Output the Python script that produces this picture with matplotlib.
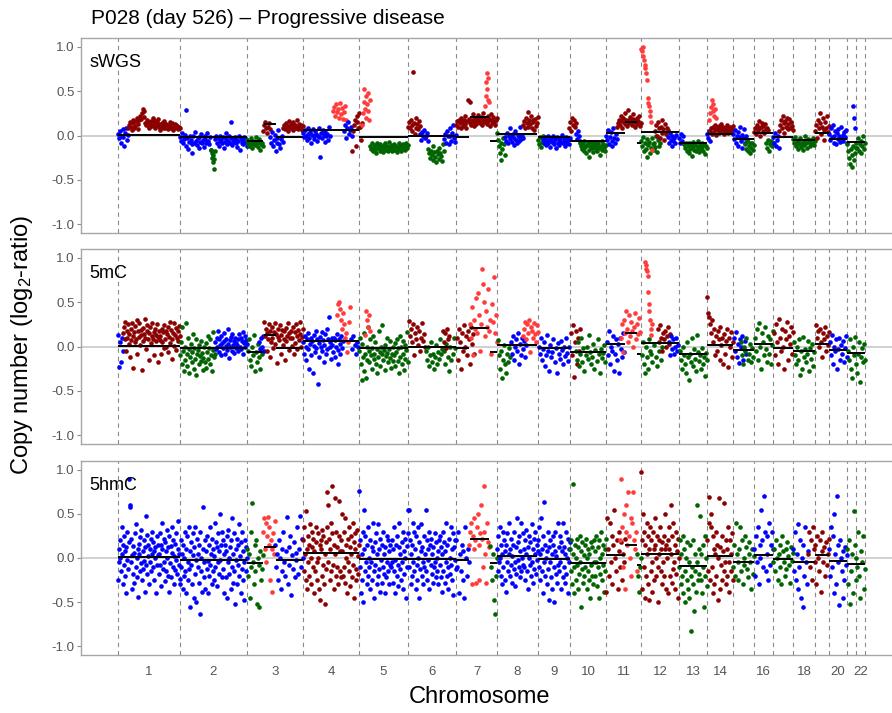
import numpy as np
import matplotlib
matplotlib.use('Agg')
import matplotlib.pyplot as plt

plt.rcParams['font.family'] = ['Liberation Sans', 'DejaVu Sans']
plt.rcParams['mathtext.fontset'] = 'custom'
plt.rcParams['mathtext.rm'] = 'Liberation Sans'
plt.rcParams['mathtext.default'] = 'regular'

# chromosome sizes in bins (genome x axis)
chrom_names = [str(i) for i in range(1, 23)]
chrom_bins = [62, 67, 56, 56, 49, 48, 41, 41, 32, 36, 35, 38, 28, 26, 21, 19, 20, 22, 14, 18, 9, 9]
shown_labels = ['1', '2', '3', '4', '5', '6', '7', '8', '9', '10', '11', '12', '13', '14', '16', '18', '20', '22']

# segments (bin start, bin end, log2 ratio)
seg_start = [0, 62, 129, 146, 158, 185, 241, 290, 338, 352, 372, 379, 420, 452, 488, 507, 519, 523,
             561, 589, 615, 636, 655, 675, 697, 711, 729]
seg_end = [62, 129, 145, 158, 185, 241, 290, 338, 351, 371, 379, 419, 452, 488, 507, 519, 523, 561,
           589, 615, 636, 655, 675, 697, 711, 729, 747]
seg_mean = [0.01, -0.02, -0.06, 0.13, -0.02, 0.06, -0.015, -0.01, -0.02, 0.21, -0.06, 0.02, -0.015,
            -0.06, 0.03, 0.15, -0.08, 0.045, -0.09, 0.02, -0.045, 0.03, -0.015, -0.05, 0.03, -0.035, -0.07]

# bins: (start, end, call, log2 ratio x100)
swgs_bins = [
    (0, 10, 'n', "2 -3 5 -8 0 7 -2 -12 3 9 -5 1"),
    (10, 62, 'g', "8 12 15 10 6 14 18 9 11 16 20 13 7 17 22 19 25 30 28 21 14 12 18 15 10 9 13 16 11 20 17 14 8 12 15 19 13 10 6 11 14 9 12 16 8 13 10 7 12 15 11 9 14 6 10 13 8 12 11 7 10 9"),
    (62, 93, 'n', "-2 -6 3 -9 -4 1 -12 29 -3 -15 -7 0 -5 -10 -20 -1 -8 4 -6 -11 -3 -14 -2 -7 2 -9 -5 -13 -1 -4 -8 3 -6 -10 -2 -16"),
    (93, 97, 'l', "-16 -20 -25 -22 -30 -27 -38 -18"),
    (97, 129, 'n', "-4 -1 -8 -3 -12 -6 0 -5 -9 -2 -14 -7 3 -4 -10 -6 -1 -8 15 -3 -11 -5 -7 -2 -9 -4 -13 -6 -1 -16 -3 -8 -5 -10 -2 -7 -4 -12"),
    (129, 145, 'l', "-5 -9 -12 -7 -3 -10 -14 -8 -6 -11 -2 -9 -13 -7 -4 -16 -10 -8 -12"),
    (145, 152, 'g', "5 12 15 8 3 10 14 7"),
    (152, 165, 'n', "-2 -8 4 -12 -5 1 -17 -9 -3 6 -10 -14 -4 0 -7"),
    (165, 185, 'g', "9 12 7 14 10 5 11 16 8 13 9 6 15 11 12 8 17 10 7 13 9 12 6 11"),
    (185, 212, 'n', "3 -2 6 0 -5 8 2 -3 4 -8 1 7 -1 -4 5 2 -6 0 9 -2 -24 3 -3 6 1 -7 4 -1 2 -5 10 0"),
    (215, 228, 'a', "28 32 22 35 26 30 20 37 24 31 19 27 33 18"),
    (226, 234, 'n', "5 12 -3 8 15 2 6 10 -1"),
    (234, 244, 'g', "-17 5 12 18 -12 22 15 8 25 10 -5 14"),
    (244, 252, 'a', "12 25 38 53 30 45 20 35 48 28 18 40"),
    (252, 290, 'l', "-12 -15 -9 -18 -13 -11 -16 -20 -8 -14 -12 -17 -10 -15 -13 -19 -11 -14 -9 -16 -12 -18 -13 -7 -15 -11 -17 -14 -10 -16 -13 -12 -19 -15 -9 -14 -11 -17 -13 -10 -15 -12 -16 -8 -14 -11"),
    (290, 302, 'g', "10 15 8 18 5 12 72 14 2 20 9 13 7 16 11"),
    (302, 310, 'n', "2 -5 4 -1 6 -3 0 3 -6"),
    (310, 326, 'l', "-15 -20 -25 -18 -22 -28 -12 -19 -24 -30 -17 -21 -26 -14 -20 -23 -29 -10 -18"),
    (326, 338, 'n', "-4 2 -8 5 -1 -10 8 0 -6 3 12 -3 -7 1"),
    (338, 379, 'g', "12 16 10 18 14 8 20 15 11 17 13 22 9 16 40 19 38 14 12 18 24 15 11 20 13 17 23 16 19 14 21 12 18 25 15 20 17 13 22 16 19 11 24 14 18 21 15 12 17 20"),
    (367, 371, 'a', "33 45 60 70 52 40 65 38"),
    (379, 387, 'l', "3 -5 -12 -20 -8 -28 -15 -3 -10 -22"),
    (387, 405, 'n', "-2 -6 3 -9 0 -4 8 -1 -7 2 -11 -3 5 -5 -8 1 -2 -6 10 -4 0 -3"),
    (405, 420, 'g', "12 16 8 20 14 27 10 18 13 22 9 15 17 6 19 11 14 21"),
    (420, 427, 'l', "-5 -10 -2 -13 -7 0 -9 -4"),
    (425, 452, 'n', "-4 -8 -2 -11 -6 0 -9 -5 -13 -3 -7 -1 -10 -6 -4 -14 -2 -8 -5 -11 -3 -7 1 -9 -4 -12 -6 -2 -8 -5 -10 -3"),
    (450, 458, 'g', "8 15 5 20 12 18 10 14"),
    (457, 462, 'n', "2 -4 5 -1 -6"),
    (462, 488, 'l', "-8 -12 -15 -10 -18 -6 -13 -20 -11 -9 -16 -24 -12 -7 -14 -10 -19 -13 -8 -15 -11 -17 -9 -14 -22 -12 -6 -16 -10 -13 -18 -11"),
    (488, 499, 'n', "0 -5 6 -10 -2 4 -12 -6 8 -3 -8 2 -4"),
    (499, 523, 'g', "10 14 18 12 22 16 9 20 15 25 13 18 11 29 17 14 21 16 12 19 24 15 10 18 13 20 16 22 11 14"),
    (523, 542, 'l', "-6 -12 -2 -18 -9 -15 -4 -24 -11 -7 -20 -14 -3 -10 -16 -8 -13 0 -19 -5 -12 -9"),
    (523, 534, 'a', "98 95 100 90 85 80 76 70 63 42 37 33 28 22 15 -16"),
    (537, 550, 'g', "5 12 0 15 8 -3 10 18 3 7 -5 13 2 9 6"),
    (550, 558, 'n', "-2 -8 3 -5 -12 0 -6 -3 -9 1"),
    (561, 566, 'n', "-3 -8 2 -6 -1 -10"),
    (566, 589, 'l', "-10 -14 -8 -17 -12 -20 -9 -15 -11 -23 -13 -7 -16 -10 -18 -12 -14 -6 -19 -11 -15 -9 -13 -17 -10 -21 -12 -14"),
    (589, 592, 'n', "2 -3 5 -6"),
    (592, 615, 'g', "5 8 2 10 4 12 7 1 9 6 11 3 8 13 5 10 2 7 9 4 12 6 3 8 10 5 7 11"),
    (591, 598, 'a', "18 25 32 40 36 28 22 30 20"),
    (615, 629, 'n', "2 -4 6 -8 0 -12 4 -2 10 -6 -14 1 -3 7 -9 -1 -5"),
    (627, 636, 'l', "-10 -15 -6 -18 -12 -8 -20 -14 -9 -16 -11"),
    (636, 650, 'g', "4 9 2 12 6 16 8 0 10 14 5 11 3 13 7 9 6"),
    (648, 655, 'l', "-8 -14 -5 -17 -10 -6 -12 -9"),
    (655, 661, 'n', "-2 -8 3 -12 -5 0 -14"),
    (661, 675, 'g', "5 12 18 8 22 14 3 16 10 20 7 13 19 9 15 11 6"),
    (675, 697, 'l', "-4 -9 -2 -12 -7 -15 -5 -10 -3 -13 -8 -16 -6 -11 -1 -9 -14 -4 -7 -12 -5 -10 -8 -3 -11 -6"),
    (697, 711, 'g', "5 12 -3 18 8 25 14 2 10 20 6 -5 15 9 22 4 11"),
    (711, 729, 'n', "2 -5 8 -2 12 -8 0 5 -10 3 -4 7 -1 -7 10 -3 1 -6 4 -2 6 -9"),
    (729, 738, 'l', "-10 -18 -25 -32 -15 -35 -22 -12 -28 -20 -14"),
    (734, 738, 'n', "33 20 8"),
    (738, 747, 'l', "-8 -14 -3 -18 -10 -6 -20 -12 0 -15 -9"),
]

mc_bins = [
    (0, 5, 'n', "13 -23 5 -18 10 -5"),
    (5, 62, 'g', "15 22 8 28 -5 18 10 25 3 14 -12 20 7 27 12 -24 16 5 23 9 30 -8 17 11 26 2 13 19 -26 6 21 14 31 10 -3 18 24 8 15 -15 22 4 12 27 9 16 -10 20 6 13 25 -18 11 17 7 "
                  "12 -8 20 5 16 -2 24 9 18 0 14 22 -6 11 28 4 19 -14 8 15 26 1 13 21 -4 10 17 6 23 12"),
    (62, 97, 'l', "-10 5 -20 22 -5 -28 0 -15 26 -8 -22 10 -3 -30 -12 3 -18 -6 14 -25 -2 -14 8 -32 -9 -4 -20 2 -11 -16 6 -7 -26 -13 0 "
                  "-18 4 -24 -6 12 -14 -2 -20 8 -10 -28 -4 16 -12 -8"),
    (97, 129, 'n', "5 -3 10 0 18 -6 8 2 -10 12 4 -2 15 6 -8 9 1 -4 20 3 -13 7 -1 11 -5 14 2 -7 6 10 -2 4 "
                   "2 8 -5 14 0 10 -3 6 16 -8 4 12 -1 7 3"),
    (129, 144, 'l', "-5 8 -15 -22 0 -10 13 -28 -6 -18 3 -12 -25 -2 -8"),
    (140, 147, 'n', "5 -3 10 0 12 -5"),
    (146, 185, 'g', "28 12 20 -5 15 8 25 -12 18 5 22 10 -2 16 27 3 14 -19 11 20 7 24 -8 13 19 2 17 9 -15 21 6 12 26 -4 15 10 18 1 "
                    "10 22 -8 16 4 25 12 -3 19 7 14 28 0 11 20"),
    (185, 225, 'n', "5 -8 12 0 -15 8 -3 15 -25 3 10 -10 6 -30 1 13 -6 18 -2 9 -42 4 -12 11 0 16 -5 7 -18 2 14 -9 20 -3 8 33 -1 5 -14 10 "
                    "2 -6 10 -12 7 0 14 -4 -20 9 3 -9 12 -2 6"),
    (219, 232, 'a', "35 48 50 42 30 20 38 25 10 15 -6 5 28 45"),
    (232, 241, 'n', "8 -3 12 2 -8 5 0"),
    (241, 290, 'l', "-5 10 -20 -38 3 -12 -28 15 -8 -35 0 -15 22 -5 -18 8 -10 -25 -2 12 -14 -8 5 -20 -30 -3 -12 18 -6 -22 -1 -9 24 -15 -4 -26 2 -11 -7 10 -18 -3 -13 6 -24 -8 0 -16 "
                    "-10 4 -22 -6 8 -16 -2 -30 12 -12 0 -20 6 -8 -26 2 -14 -4 16 -18"),
    (247, 252, 'a', "13 40 30 22 35 18"),
    (290, 307, 'g', "29 12 20 5 25 -10 15 8 22 2 18 -5 10 27 6 14 0"),
    (307, 325, 'l', "-5 -15 0 -22 -10 5 -18 -8 -25 -12 2 -20 -6 -14 8 -9 -3"),
    (325, 338, 'l', "-5 -20 3 -12 -28 0 -15 -8 10 -2"),
    (324, 332, 'g', "18 5 15 -2 20 8 12"),
    (338, 356, 'g', "10 -15 20 5 -25 15 -5 24 0 12 -10 18 8 -20 22 3 14 -8"),
    (352, 379, 'a', "25 10 45 -10 30 20 55 15 60 35 -5 25 88 70 50 12 40 22 65 18 30 -8 48 28 78 15 35 5"),
    (379, 392, 'l', "7 -10 -25 -5 -36 -15 2 -20 -30 -8 -18 -2 -12"),
    (392, 409, 'n', "5 -8 12 -15 0 8 -5 15 -20 3 -10 10 -3 6 -12 2"),
    (405, 420, 'a', "12 20 28 8 25 15 30 -6 22 18 10 26 14 5 24 16"),
    (420, 452, 'n', "0 -8 10 -15 -3 5 -22 -10 13 -5 -28 2 -12 -6 8 -18 -2 -30 4 -9 -14 6 -4 -20 0 -11 10 -7 -16 -1"),
    (452, 462, 'g', "15 -10 24 -34 5 18 -20 10 -5 20"),
    (457, 488, 'l', "-5 -15 5 -22 -8 10 -18 -2 -28 -10 0 -14 13 -6 -20 -12 3 -25 -4 -16 8 -9 -30 -3 -13 -7 2 -18"),
    (488, 507, 'n', "5 -10 18 -20 0 -5 12 -28 -8 8 -15 3 -30 10 -3 -12 15 -6"),
    (502, 522, 'a', "10 25 -6 30 15 40 20 5 35 12 28 18 0 22 38 8 25 14 32 16"),
    (523, 532, 'l', "-10 5 -20 -30 0 -12 -25 8 -5"),
    (532, 545, 'l', "-8 -18 2 -12 -22 -5 -15 0"),
    (527, 534, 'a', "95 92 88 85 80 62 48 40 30 20 13 25"),
    (540, 552, 'g', "20 5 24 10 -5 15 8 18 0 12 22 3 14"),
    (550, 560, 'n', "5 -10 12 -3 8 -8 0 10 -5 2"),
    (561, 589, 'l', "-5 -15 -25 0 -10 -20 -30 5 -12 -38 -8 -18 10 -22 -3 -14 -28 13 -6 -16 -10 -25 -2 -20 -12 -33 -7 -15"),
    (589, 615, 'g', "56 38 33 25 15 30 5 20 -10 12 -5 18 8 -15 22 2 10 -20 14 -8 6 20 -23 10 0 16 -12 5"),
    (615, 628, 'n', "10 -5 16 -12 3 -19 8 0 12 -15 -3 6 -8"),
    (622, 636, 'l', "5 -10 -20 0 -5 10 -15 -8 3 -18 -2 -12"),
    (636, 655, 'l', "10 -5 20 -15 26 0 -25 15 5 -10 22 -3 -18 12 -8 8 -20 2 18"),
    (655, 675, 'g', "15 -10 25 5 -20 31 10 -5 20 0 -25 18 8 28 -15 12 3 22 -8 16"),
    (675, 697, 'l', "5 -10 -20 0 -15 8 -32 -5 -25 11 -12 -3 -18 -8 6 -28 -2 -14 3 -22 -6"),
    (697, 711, 'g', "24 10 18 0 20 5 -12 15 8 22 -5 12 2 16"),
    (711, 729, 'n', "5 -10 13 -20 0 -5 8 -25 -3 10 -15 2 -8 6 -18 -2 12 -12"),
    (729, 747, 'l', "-5 -15 8 -25 -35 0 -10 11 -20 -30 -8 5 -40 -12 -2 -18 3 -15"),
]

hmc_bins = [
    (0, 62, 'n', "-25 10 -5 20 0 -15 35 5 -30 15 -8 25 -20 8 -40 12 -2 30 -12 18 90 60 58 -5 22 -35 3 14 -18 6 -28 28 -10 38 0 -22 10 -44 16 4 -15 24 -6 32 -25 8 -12 20 -3 -38 12 48 -8 26 -18 2 15 -30 10 -5 22 -15 30 5 -10 18 -25 8 0 12 -40 25 -8 15 3 "
                 "5 -18 28 -8 15 -32 10 40 -12 22 -4 -26 18 8 -15 32 0 -20 12 -38 25 -6 14 -22 6 35 -10 20 -30 2 16 -14 28 -2 -18 10 42 -8 4 -24"),
    (62, 129, 'n', "-30 20 -10 5 -35 15 -20 0 30 -15 10 -40 25 -5 -25 35 -12 8 -55 18 -8 -30 28 3 -45 12 -18 35 -2 -50 22 -10 5 -28 15 -63 30 -15 0 -38 10 58 -5 -22 20 -35 8 -12 25 -3 -40 15 -20 35 -8 5 -30 22 -15 10 -25 2 40 -10 18 -32 12 -5 28 -18 8 50 -2 15 -22 30 -12 20 -40 5 "
                   "15 -22 8 -45 25 -5 32 -18 0 12 -35 20 -10 45 -28 5 -15 28 -52 10 -2 22 -30 15 -8 38 -20 2 -40 18 -12 30 -25 8 -5 -48 20 -15 12 0"),
    (129, 145, 'l', "10 -20 5 -45 30 -10 62 -5 -30 15 -15 20 -52 0 -8 -55 8 -25 -12 3"),
    (145, 157, 'a', "30 45 10 40 -5 25 46 15 35 -25 20 -38 10 28 5 42"),
    (157, 185, 'n', "15 -10 5 -25 20 0 -35 10 -15 30 -5 -20 8 47 -30 12 -8 25 -42 3 -12 18 -22 6 -2 35 -18 10 48 -10 22 0"),
    (185, 241, 'g', "20 -15 35 5 -25 53 10 -35 25 -5 15 -20 38 0 -30 12 30 -10 22 -40 8 -15 18 35 -5 -25 28 0 -35 15 -48 20 10 -20 32 -8 25 -30 5 -52 18 -12 35 75 60 -5 22 -25 10 40 -15 28 82 -8 15 -35 5 68 -20 30 -10 12 -30 25 65 -15 8 20 -22 50 "
                    "8 -20 30 -10 45 -28 15 0 -40 22 -5 35 -15 12 -32 25 5 -22 40 -8 18 -45 10 28 -12 -25 32 2 -18 15"),
    (241, 290, 'n', "76 -10 20 -40 5 -25 30 -50 10 55 -15 25 -5 -30 15 -20 35 0 -10 -35 20 -5 12 -25 40 8 -15 -45 18 -8 28 -30 5 -20 38 -12 10 -38 22 -2 -28 15 -10 30 -18 5 -40 12 -22 25 -5 -15 20 -30 8 -8 15 -10 "
                    "-5 20 -28 10 -15 35 -2 -40 15 -20 25 -8 -32 12 40 -12 5 -25 18 -5 30 -35 8 -18 22 0 -45 14 -10 28"),
    (290, 338, 'n', "55 55 -10 20 -30 5 15 -20 40 -5 30 -15 10 -35 25 -8 -25 35 0 -45 18 -12 8 38 -20 12 -5 -30 25 -10 5 55 -15 20 -25 10 -2 30 -35 15 -8 22 -18 5 -28 12 -10 28 -5 -22 18 0 -15 8 -30 20 "
                    "-8 25 -22 12 -38 5 30 -15 18 -28 8 -5 40 -20 15 -10 -35 22 0 -18 35 -8 10 -25 28 -42 12 -2 20 -12"),
    (338, 351, 'n', "20 -10 30 -40 5 -15 15 -25 8 -45 35 0 -20 10 -5"),
    (351, 371, 'a', "15 30 40 -30 25 45 10 20 -28 35 50 15 -25 28 60 22 -10 82 30 5 -28 40 18 12"),
    (372, 379, 'l', "14 -10 -25 5 -48 -63 -20 0"),
    (379, 420, 'n', "10 -15 25 -5 35 0 -20 15 -30 5 30 -10 20 -25 8 -38 15 -5 28 -15 5 40 -20 10 -8 22 -28 2 15 -12 30 -5 -32 12 -18 45 -2 18 -10 25 -22 8 40 -15 0 28 -8 10 "
                    "-10 20 -25 5 32 -15 12 -35 25 0 -8 18 -20 38 -5 10 -28 22 -12 5 30 -18 15 -2 8"),
    (420, 452, 'n', "20 -10 35 -25 5 45 -15 10 -40 25 -5 63 -20 15 0 -30 8 -12 30 -48 12 -5 20 -22 5 -35 15 25 -10 -50 8 30 -18 2 -28 40 -8 12 "
                    "-15 25 -5 -35 18 8 -22 40 -10 12 -28 5 30 -18 0 22 -40 10 -5 18"),
    (452, 488, 'l', "10 -15 20 -30 5 84 -10 -40 15 -25 0 22 -8 -35 12 -18 25 -5 -55 8 -12 18 -28 3 -20 15 -10 22 -35 0 -15 10 -25 5 -45 18 -8 -20 12 -30 20 -5 "
                    "-20 8 -5 25 -32 12 -10 -45 20 0 -18 30 -25 5 -8 15 -38 10 -15 22"),
    (488, 507, 'g', "-38 45 10 -20 40 -5 25 -30 15 55 0 -15 20 -35 8 30 -10 18 -25 5 -5 22"),
    (502, 519, 'a', "20 90 35 -10 50 -35 30 60 15 75 25 0 45 -20 40 75 20 10 30 -15"),
    (518, 523, 'l', "5 -20 -38 -10 0"),
    (523, 561, 'g', "97 -35 20 50 -10 30 -45 15 -20 40 5 -30 25 -48 10 35 -15 20 -5 -38 30 10 -25 15 45 0 -20 25 -10 -50 20 5 35 -15 10 -30 18 -5 25 -20 50 10 -35 15 0 "
                    "20 -40 10 35 -20 60 5 -28 25 -12 40 -5 -35 15 30 -18 8 -45 22 0"),
    (561, 589, 'l', "-10 20 -30 5 -20 -40 25 10 -15 -50 0 -25 18 -35 -5 -45 15 -83 -20 -10 20 -30 -60 5 -15 -38 60 -5 -25 10 -18 48 "
                    "-25 5 -40 15 -10 -55 25 -20 0 -32"),
    (589, 615, 'g', "20 -15 40 69 -25 35 50 -10 25 -40 10 -30 5 30 -20 15 -48 0 68 -35 12 -8 25 -25 8 -15 62 -5 20 -30 "
                    "10 -20 35 -5 -38 20 5 -15 28 -25"),
    (615, 636, 'l', "-10 15 -20 40 5 -25 -5 10 35 -15 20 -30 0 -8 25 12 -12 -22 5 18 -5 -35 10 -18 2"),
    (636, 655, 'n', "10 -20 25 -5 35 -30 15 0 55 20 -10 70 30 -15 25 5 -25 40 -8 15 30 10"),
    (655, 675, 'l', "-5 10 -15 20 0 -25 5 15 -10 -30 25 8 -5 -20 10 -12 18 2 -8 -28 12 -3 6"),
    (675, 690, 'n', "10 -15 30 -25 5 -35 39 -10 20 -45 0 -55 15 -20 35 -5 -30 8"),
    (690, 711, 'g', "5 30 -10 20 -25 35 10 -5 15 -30 25 0 -15 20 -38 8 30 -5 12 -20 18 -8 5 22"),
    (711, 729, 'n', "10 -20 35 -10 25 -40 50 5 -30 70 15 -5 -53 20 0 -15 -45 8 -25 12 -8 3"),
    (729, 747, 'l', "10 -30 20 -52 -15 5 -40 53 15 -25 0 -10 30 -20 -45 8 -5 25 -35 -12"),
]

call_colors = {'n': '#0000ff', 'g': '#8b0000', 'l': '#006400', 'a': '#ff3b3b'}

chrom_edges = np.concatenate([[0], np.cumsum(chrom_bins)])
chrom_mid = (chrom_edges[:-1] + chrom_edges[1:]) / 2

fig = plt.figure(figsize=(8.92, 7.13), dpi=100)
W, H = 892.0, 713.0
panels = [('sWGS', swgs_bins, 38, 233), ('5mC', mc_bins, 249, 444), ('5hmC', hmc_bins, 461, 655)]

for k, (name, bins, top, bottom) in enumerate(panels):
    ax = fig.add_axes([81 / W, 1 - bottom / H, 814 / W, (bottom - top) / H])
    ax.axhline(0, color='#c4c4c4', lw=1.1, zorder=1)
    for e in chrom_edges:
        ax.axvline(e, color='#8a8a8a', lw=0.8, ls=(0, (4, 3.5)), zorder=1.5)
    for start, end, call, vals in bins:
        y = np.array(vals.split(), dtype=float) / 100
        step = (end - start) / len(y)
        x = np.linspace(start + step / 2, end - step / 2, len(y))
        ax.scatter(x, y, s=11, color=call_colors[call], linewidths=0, zorder=2)
    for s0, s1, m in zip(seg_start, seg_end, seg_mean):
        ax.plot([s0, s1], [m, m], color='black', lw=1.4, solid_capstyle='butt', zorder=3)

    ax.set_xlim(-37, 777)
    ax.set_ylim(-1.1, 1.1)
    ax.set_yticks([-1, -0.5, 0, 0.5, 1])
    ax.set_yticklabels(['-1.0', '-0.5', '0.0', '0.5', '1.0'])
    for sp in ax.spines.values():
        sp.set_color('#a6a6a6')
        sp.set_linewidth(1.0)
    ax.tick_params(axis='y', length=3, width=0.8, color='#8a8a8a', labelsize=9.5,
                   labelcolor='#555555', pad=1.5)
    idx = [chrom_names.index(c) for c in shown_labels]
    ax.set_xticks(chrom_mid[idx])
    if k == 2:
        ax.set_xticklabels(shown_labels)
        ax.tick_params(axis='x', length=0, labelsize=9.5, labelcolor='#555555', pad=8)
    else:
        ax.set_xticklabels([])
        ax.tick_params(axis='x', length=0)
    ax.text(0.01, 0.875, name, transform=ax.transAxes, fontsize=13, va='center', ha='left')

fig.text(91 / W, 1 - 18 / H, 'P028 (day 526) – Progressive disease', fontsize=15, va='center', ha='left')
fig.text(22 / W, 1 - 345 / H, 'Copy number (log$_2$-ratio)', fontsize=17, rotation=90,
         va='center', ha='center')
fig.text(480 / W, 1 - 697 / H, 'Chromosome', fontsize=17, va='center', ha='center')

plt.savefig('out.png', dpi=100)
